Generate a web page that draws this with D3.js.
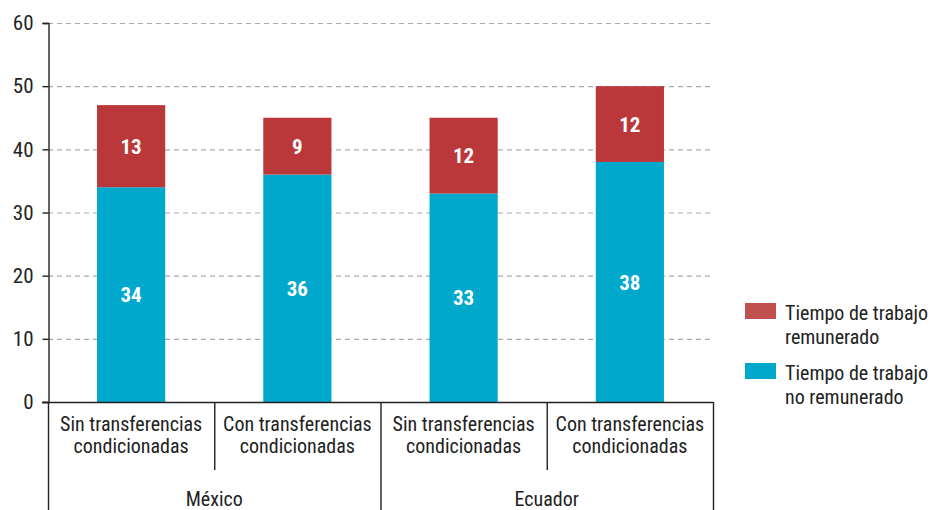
<!DOCTYPE html>
<html>
<head>
<meta charset="utf-8">
<script src="https://cdn.jsdelivr.net/npm/d3@7"></script>
<style>
  body { margin: 0; background: #fff; }
  svg text { font-family: "Roboto Condensed", "Liberation Sans Narrow", "DejaVu Sans Condensed", sans-serif; }
</style>
</head>
<body>
<div id="chart"></div>
<script>
const countries = ['México', 'Ecuador']
const groups = ['Sin transferencias condicionadas', 'Con transferencias condicionadas']
const noRemunerado = [34, 36, 33, 38]
const remunerado = [13, 9, 12, 12]
const yTicks = [0, 10, 20, 30, 40, 50, 60]
const seriesNames = ['Tiempo de trabajo remunerado', 'Tiempo de trabajo no remunerado']

const width = 931
const height = 510
const padding = { left: 48, top: 23, right: 218, bottom: 108 }
const chartWidth = width - padding.left - padding.right
const chartHeight = height - padding.top - padding.bottom

const colors = { paid: '#ba373a', unpaid: '#00a8cc', paidLegend: '#c0504d' }

const rows = []
countries.forEach((c, ci) => {
  groups.forEach((g, gi) => {
    const i = ci * groups.length + gi
    rows.push({ key: c + '|' + g, country: c, group: g, unpaid: noRemunerado[i], paid: remunerado[i] })
  })
})

const xScale = d3.scaleBand()
    .range([0, chartWidth])
    .domain(rows.map(r => r.key))
    .paddingInner(0.59)
    .paddingOuter(0.295)

const slot = chartWidth / rows.length

const yScale = d3.scaleLinear()
    .range([chartHeight, 0])
    .domain([0, 60])

const svg = d3.select('#chart').append('svg')
    .attr('width', width)
    .attr('height', height)

const chart = svg.append('g')
    .attr('transform', `translate(${padding.left}, ${padding.top})`)

// gridlines
chart.append('g')
  .selectAll('line')
  .data(yTicks.filter(t => t > 0))
  .enter().append('line')
    .attr('x1', 0)
    .attr('x2', chartWidth)
    .attr('y1', d => yScale(d) + 0.5)
    .attr('y2', d => yScale(d) + 0.5)
    .attr('stroke', '#aaa')
    .attr('stroke-width', 1.2)
    .attr('stroke-dasharray', '5,4')

// y axis
const yAxis = d3.axisLeft(yScale).tickValues(yTicks).tickSize(6).tickPadding(9)
const yAxisEl = chart.append('g')
    .attr('transform', 'translate(0.5, 0)')
    .call(yAxis)
yAxisEl.select('.domain').attr('stroke', '#222').attr('stroke-width', 1.4)
yAxisEl.selectAll('.tick line').attr('stroke', '#222').attr('stroke-width', 1.4)
yAxisEl.selectAll('text')
    .attr('fill', '#222')
    .style('font-size', '21px')

// bars
const barGroups = chart.selectAll('g.bar')
    .data(rows).enter()
  .append('g')
    .classed('bar', true)

barGroups.append('rect')
    .attr('x', d => xScale(d.key))
    .attr('width', xScale.bandwidth())
    .attr('y', d => yScale(d.unpaid))
    .attr('height', d => chartHeight - yScale(d.unpaid))
    .attr('fill', colors.unpaid)

barGroups.append('rect')
    .attr('x', d => xScale(d.key))
    .attr('width', xScale.bandwidth())
    .attr('y', d => yScale(d.unpaid + d.paid))
    .attr('height', d => yScale(d.unpaid) - yScale(d.unpaid + d.paid))
    .attr('fill', colors.paid)

barGroups.append('text')
    .attr('x', d => xScale(d.key) + xScale.bandwidth() / 2)
    .attr('y', d => yScale(d.unpaid / 2))
    .attr('dy', '0.36em')
    .attr('text-anchor', 'middle')
    .attr('fill', '#fff')
    .style('font-size', '21px')
    .style('font-weight', 'bold')
    .text(d => d.unpaid)

barGroups.append('text')
    .attr('x', d => xScale(d.key) + xScale.bandwidth() / 2)
    .attr('y', d => yScale(d.unpaid + d.paid / 2))
    .attr('dy', '0.36em')
    .attr('text-anchor', 'middle')
    .attr('fill', '#fff')
    .style('font-size', '21px')
    .style('font-weight', 'bold')
    .text(d => d.paid)

// x axis baseline
chart.append('line')
    .attr('x1', -6)
    .attr('x2', chartWidth)
    .attr('y1', chartHeight + 0.5)
    .attr('y2', chartHeight + 0.5)
    .attr('stroke', '#222')
    .attr('stroke-width', 1.4)

// separators between categories and countries
const sepX = d3.range(rows.length + 1).map(i => i * slot)
chart.append('g')
  .selectAll('line')
  .data(sepX)
  .enter().append('line')
    .attr('x1', d => d + 0.5)
    .attr('x2', d => d + 0.5)
    .attr('y1', chartHeight)
    .attr('y2', (d, i) => (i % groups.length === 0) ? height - padding.top : chartHeight + 68)
    .attr('stroke', '#222')
    .attr('stroke-width', 1.4)

// category labels
const catLabels = chart.append('g')
  .selectAll('text')
  .data(rows)
  .enter().append('text')
    .attr('x', d => xScale(d.key) + xScale.bandwidth() / 2)
    .attr('y', chartHeight + 29)
    .attr('text-anchor', 'middle')
    .attr('fill', '#222')
    .style('font-size', '20px')
catLabels.each(function (d) {
  const words = d.group.split(' ')
  const t = d3.select(this)
  t.append('tspan').attr('x', t.attr('x')).text(words.slice(0, 2).join(' '))
  t.append('tspan').attr('x', t.attr('x')).attr('dy', '22').text(words.slice(2).join(' '))
})

// country labels
chart.append('g')
  .selectAll('text')
  .data(countries)
  .enter().append('text')
    .attr('x', (d, i) => (i * groups.length + groups.length / 2) * slot)
    .attr('y', chartHeight + 104)
    .attr('text-anchor', 'middle')
    .attr('fill', '#222')
    .style('font-size', '20px')
    .text(d => d)

// legend
const legend = svg.append('g')
    .attr('transform', 'translate(745, 303)')
const legendItems = [
  { name: seriesNames[0], color: colors.paidLegend },
  { name: seriesNames[1], color: colors.unpaid }
]
const li = legend.selectAll('g')
    .data(legendItems).enter()
  .append('g')
    .attr('transform', (d, i) => `translate(0, ${i * 60})`)
li.append('rect')
    .attr('width', 31)
    .attr('height', 16)
    .attr('fill', d => d.color)
li.append('text')
    .attr('x', 40)
    .attr('y', 17)
    .attr('fill', '#222')
    .style('font-size', '20px')
    .each(function (d) {
      const words = d.name.split(' ')
      const t = d3.select(this)
      t.append('tspan').attr('x', 40).text(words.slice(0, 3).join(' '))
      t.append('tspan').attr('x', 40).attr('dy', '24').text(words.slice(3).join(' '))
    })
</script>
</body>
</html>
